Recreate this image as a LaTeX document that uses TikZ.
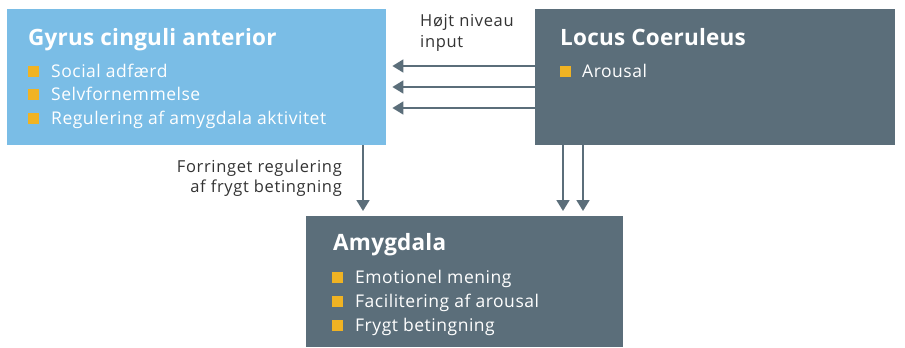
\documentclass[tikz,border=0pt]{standalone}
\usepackage{fontspec}
\setmainfont{Open Sans}
\usetikzlibrary{arrows.meta}
\definecolor{accblue}{HTML}{7ABDE6}
\definecolor{slate}{HTML}{5B6E7A}
\definecolor{bulletor}{HTML}{F0B323}
\definecolor{labeltxt}{HTML}{333333}
\tikzset{
  boxbase/.style={rectangle, anchor=north west, inner sep=0pt, draw=none},
  accbox/.style={boxbase, fill=accblue},
  slatebox/.style={boxbase, fill=slate},
  titletxt/.style={anchor=base west, inner sep=0pt, text=white, font=\fontsize{22.5}{26}\selectfont\bfseries\addfontfeature{LetterSpace=1}},
  itemtxt/.style={anchor=base west, inner sep=0pt, text=white, font=\fontsize{17.5}{20}\selectfont\addfontfeature{LetterSpace=3}},
  bulletsq/.style={rectangle, fill=bulletor, minimum width=11, minimum height=11, inner sep=0pt, anchor=south west},
  lbl/.style={inner sep=0pt, text=labeltxt, font=\fontsize{16.5}{20}\selectfont\addfontfeature{LetterSpace=4}},
  conn/.style={draw=slate, line width=1.8pt, -{Triangle[width=13pt,length=11pt]}}
}
\begin{document}
\begin{tikzpicture}[x=1pt,y=-1pt]
\useasboundingbox (0,0) rectangle (905,348);
% boxes
\node[accbox, minimum width=379, minimum height=136] (acc) at (7,9) {};
\node[slatebox, minimum width=360, minimum height=136] (lc) at (535,9) {};
\node[slatebox, minimum width=317, minimum height=131] (amy) at (306,216) {};
% ACC text
\node[titletxt] (acct) at (28,45) {Gyrus cinguli anterior};
\node[bulletsq] (accb1) at (28,77) {};
\node[itemtxt] (acci1) at (51,77) {Social adfærd};
\node[bulletsq] (accb2) at (28,100.5) {};
\node[itemtxt] (acci2) at (51,100.5) {Selvfornemmelse};
\node[bulletsq] (accb3) at (28,124) {};
\node[itemtxt] (acci3) at (51,124) {Regulering af amygdala aktivitet};
% LC text
\node[titletxt] (lct) at (560,45) {Locus Coeruleus};
\node[bulletsq] (lcb1) at (560,77) {};
\node[itemtxt] (lci1) at (582,77) {Arousal};
% Amygdala text
\node[titletxt] (amyt) at (333,250) {Amygdala};
\node[bulletsq] (amyb1) at (332,283) {};
\node[itemtxt] (amyi1) at (355,283) {Emotionel mening};
\node[bulletsq] (amyb2) at (332,307) {};
\node[itemtxt] (amyi2) at (355,307) {Facilitering af arousal};
\node[bulletsq] (amyb3) at (332,331) {};
\node[itemtxt] (amyi3) at (355,331) {Frygt betingning};
% labels
\node[lbl, anchor=base west, align=left] (hl1) at (420,27) {Højt niveau};
\node[lbl, anchor=base west, align=left] (hl2) at (420,47) {input};
\node[lbl, anchor=base east] (fl1) at (342,172) {Forringet regulering};
\node[lbl, anchor=base east] (fl2) at (342,192) {af frygt betingning};
% connectors
\coordinate (h1) at (0,66);
\coordinate (h2) at (0,87);
\coordinate (h3) at (0,108);
\draw[conn] (lc.west |- h1) -- ([xshift=6pt]acc.east |- h1);
\draw[conn] (lc.west |- h2) -- ([xshift=6pt]acc.east |- h2);
\draw[conn] (lc.west |- h3) -- ([xshift=6pt]acc.east |- h3);
\coordinate (v1) at (363,0);
\coordinate (v2) at (563,0);
\coordinate (v3) at (583,0);
\draw[conn] (acc.south -| v1) -- ([yshift=5pt]amy.north -| v1);
\draw[conn] (lc.south -| v2) -- ([yshift=5pt]amy.north -| v2);
\draw[conn] (lc.south -| v3) -- ([yshift=5pt]amy.north -| v3);
\end{tikzpicture}
\end{document}
